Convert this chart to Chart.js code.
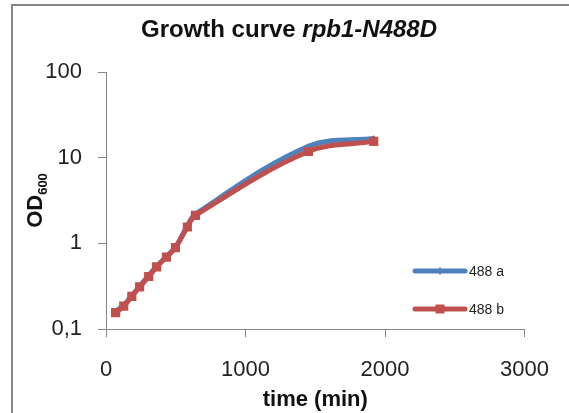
<!DOCTYPE html>
<html>
<head>
<meta charset="utf-8">
<script src="https://cdn.jsdelivr.net/npm/chart.js@4.4.0/dist/chart.umd.min.js"></script>
<style>
  html, body { margin: 0; padding: 0; background: #fff; }
  #wrap { width: 569px; height: 413px; }
</style>
</head>
<body>
<div id="wrap"><canvas id="growth" width="569" height="413"></canvas></div>
<script>
// Growth curve rpb1-N488D — OD600 vs time, log scale

const timeMin = [69, 127, 185, 241, 306, 363, 433, 498, 583, 641, 1451, 1919];
const od488a = [0.16, 0.19, 0.245, 0.315, 0.42, 0.54, 0.70, 0.90, 1.60, 2.20, 13.6, 16.8];
const od488b = [0.155, 0.185, 0.24, 0.31, 0.41, 0.53, 0.69, 0.89, 1.55, 2.12, 11.8, 15.5];
const seriesNames = ['488 a', '488 b'];
const yTickValues = [0.1, 1, 10, 100];
const xTickValues = [0, 1000, 2000, 3000];

const BLUE = '#4f81bd';
const RED = '#c0504d';
const AXIS = '#868686';
const FONT = '"Liberation Sans", Arial, sans-serif';

// ---- frame, titles and legend drawn around the chart area ----
const decorations = {
  id: 'decorations',
  beforeDraw(chart) {
    const ctx = chart.ctx;
    ctx.save();
    ctx.fillStyle = '#fff';
    ctx.fillRect(0, 0, chart.width, chart.height);
    ctx.strokeStyle = AXIS;
    ctx.lineWidth = 2;
    ctx.strokeRect(12, 5, chart.width + 40, chart.height + 40);
    ctx.restore();
  },
  afterDraw(chart) {
    const ctx = chart.ctx;
    const area = chart.chartArea;
    ctx.save();
    ctx.fillStyle = '#111';

    // chart title, second half in italics
    const part1 = 'Growth curve ';
    const part2 = 'rpb1-N488D';
    ctx.textBaseline = 'alphabetic';
    ctx.font = 'bold 24px ' + FONT;
    const w1 = ctx.measureText(part1).width;
    ctx.font = 'italic bold 24px ' + FONT;
    const w2 = ctx.measureText(part2).width;
    const tx = 289 - (w1 + w2) / 2;
    ctx.font = 'bold 24px ' + FONT;
    ctx.textAlign = 'left';
    ctx.fillText(part1, tx, 37);
    ctx.font = 'italic bold 24px ' + FONT;
    ctx.fillText(part2, tx + w1, 37);

    // x axis title
    ctx.font = 'bold 22px ' + FONT;
    ctx.textAlign = 'center';
    ctx.fillText('time (min)', (area.left + area.right) / 2, 406);

    // y axis title with subscript
    ctx.translate(42, (area.top + area.bottom) / 2);
    ctx.rotate(-Math.PI / 2);
    ctx.font = 'bold 22px ' + FONT;
    const wOD = ctx.measureText('OD').width;
    ctx.font = 'bold 13px ' + FONT;
    const wSub = ctx.measureText('600').width;
    ctx.textAlign = 'left';
    ctx.font = 'bold 22px ' + FONT;
    ctx.fillText('OD', -(wOD + wSub) / 2, 0);
    ctx.font = 'bold 13px ' + FONT;
    ctx.fillText('600', -(wOD + wSub) / 2 + wOD, 5);
    ctx.setTransform(1, 0, 0, 1, 0, 0);

    // legend inside the plot, lower right
    const rows = [
      { name: seriesNames[0], color: BLUE, y: 271, marker: 'diamond' },
      { name: seriesNames[1], color: RED, y: 309, marker: 'square' }
    ];
    rows.forEach(r => {
      ctx.strokeStyle = r.color;
      ctx.lineWidth = 5;
      ctx.lineCap = 'round';
      ctx.beginPath();
      ctx.moveTo(415, r.y);
      ctx.lineTo(465, r.y);
      ctx.stroke();
      ctx.fillStyle = r.color;
      if (r.marker === 'square') {
        ctx.fillRect(440 - 4.5, r.y - 4.5, 9, 9);
      } else {
        ctx.beginPath();
        ctx.moveTo(440, r.y - 4);
        ctx.lineTo(443, r.y);
        ctx.lineTo(440, r.y + 4);
        ctx.lineTo(437, r.y);
        ctx.closePath();
        ctx.fill();
      }
      ctx.fillStyle = '#222';
      ctx.font = '14px ' + FONT;
      ctx.textAlign = 'left';
      ctx.textBaseline = 'middle';
      ctx.fillText(r.name, 469, r.y + 1);
    });
    ctx.restore();
  }
};

function buildGrowthChart() {
  const ctx = document.getElementById('growth').getContext('2d');
  return new Chart(ctx, {
    type: 'line',
    data: {
      datasets: [
        {
          label: seriesNames[0],
          data: timeMin.map((t, i) => ({ x: t, y: od488a[i] })),
          borderColor: BLUE,
          backgroundColor: BLUE,
          borderWidth: 5,
          tension: 0.35,
          pointStyle: 'rectRot',
          pointRadius: 3,
          pointBorderWidth: 0,
          order: 2
        },
        {
          label: seriesNames[1],
          data: timeMin.map((t, i) => ({ x: t, y: od488b[i] })),
          borderColor: RED,
          backgroundColor: RED,
          borderWidth: 5,
          tension: 0.35,
          pointStyle: 'rect',
          pointRadius: 6.5,
          pointBorderWidth: 0,
          order: 1
        }
      ]
    },
    options: {
      responsive: false,
      devicePixelRatio: 1,
      animation: false,
      layout: { padding: { top: 72, right: 31, left: 0, bottom: 0 } },
      scales: {
        x: {
          type: 'linear',
          min: 0,
          max: 3000,
          afterBuildTicks: s => { s.ticks = xTickValues.map(v => ({ value: v })); },
          afterFit: s => { s.height = 84; },
          grid: { drawOnChartArea: false, drawTicks: true, tickLength: 8, color: AXIS },
          border: { display: true, color: AXIS, width: 1 },
          ticks: {
            color: '#222',
            font: { family: FONT, size: 22 },
            padding: 20,
            maxRotation: 0,
            callback: v => String(v)
          }
        },
        y: {
          type: 'logarithmic',
          min: 0.1,
          max: 100,
          afterBuildTicks: s => { s.ticks = yTickValues.map(v => ({ value: v })); },
          afterFit: s => { s.width = 106; },
          grid: { drawOnChartArea: false, drawTicks: true, tickLength: 8, color: AXIS },
          border: { display: true, color: AXIS, width: 1 },
          ticks: {
            color: '#222',
            font: { family: FONT, size: 22 },
            padding: 16,
            callback: v => String(v).replace('.', ',')
          }
        }
      },
      plugins: {
        legend: { display: false },
        tooltip: { enabled: false }
      }
    },
    plugins: [decorations]
  });
}

buildGrowthChart();
</script>
</body>
</html>
